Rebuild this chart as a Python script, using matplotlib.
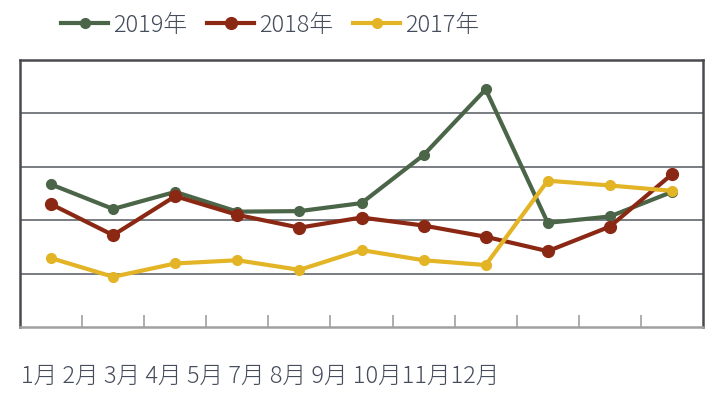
import matplotlib.pyplot as plt

months = ["1月", "2月", "3月", "4月", "5月", "7月", "8月", "9月", "10月", "11月", "12月"]
sales_2019 = [267, 221, 253, 216, 217, 232, 322, 445, 195, 207, 253]
sales_2018 = [230, 172, 245, 210, 186, 205, 190, 169, 142, 188, 286]
sales_2017 = [129, 94, 119, 125, 107, 144, 125, 116, 274, 265, 255]

series = [
    ("2019年", sales_2019, "#4b6548", 7),
    ("2018年", sales_2018, "#8b2814", 8.5),
    ("2017年", sales_2017, "#e3b425", 7),
]

plt.rcParams["font.family"] = ["Noto Sans CJK JP", "DejaVu Sans"]
text_color = "#454d5c"

fig = plt.figure(figsize=(7.24, 3.98), dpi=100)
ax = fig.add_axes([20 / 724, 1 - 327 / 398, 683 / 724, 267 / 398])

x = range(len(months))
for label, values, color, ms in series:
    ax.plot(x, values, color=color, lw=3.0, marker="o", ms=ms,
            solid_joinstyle="round", label=label, zorder=3)

ax.set_xlim(-0.5, len(months) - 0.5)
ax.set_ylim(0, 500)
ax.set_yticks([100, 200, 300, 400])
ax.yaxis.grid(True, color="#555a60", lw=1.1)
ax.tick_params(axis="y", left=False, labelleft=False)
ax.set_xticks([i + 0.5 for i in range(len(months) - 1)])
ax.tick_params(axis="x", direction="in", length=9, width=1.2,
               color="#a0a0a0", labelbottom=False)

for side in ["top", "left", "right"]:
    ax.spines[side].set_color("#4a4a50")
    ax.spines[side].set_linewidth(1.8)
ax.spines["bottom"].set_color("#a0a0a0")
ax.spines["bottom"].set_linewidth(1.8)

# month labels drawn as one text line, as in the source image
month_line = " ".join(months[:8]) + " " + "".join(months[8:])
fig.text(21 / 724, 1 - 376 / 398, month_line, fontsize=17, color=text_color,
         ha="left", va="center", fontweight="light")

leg = fig.legend(loc="center", bbox_to_anchor=(270 / 724, 1 - 25 / 398),
                 ncol=3, frameon=False, fontsize=17, handlelength=2.0,
                 handletextpad=0.2, columnspacing=0.85)
for t in leg.get_texts():
    t.set_color(text_color)
    t.set_fontweight("light")

fig.savefig("out.png", dpi=100)
